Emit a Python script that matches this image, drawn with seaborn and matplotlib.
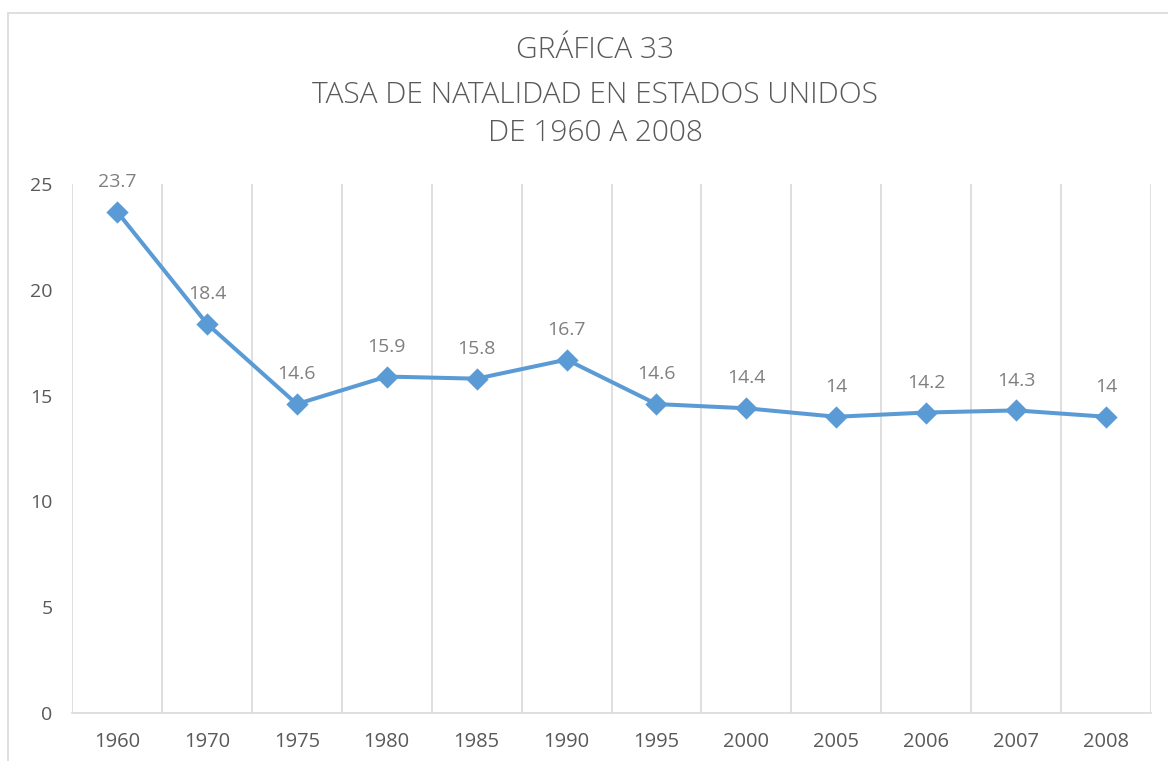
import matplotlib
matplotlib.use("Agg")
import matplotlib.pyplot as plt
import seaborn as sns
import pandas as pd
from matplotlib.patches import Rectangle

years = ["1960", "1970", "1975", "1980", "1985", "1990", "1995", "2000", "2005", "2006", "2007", "2008"]
rates = [23.7, 18.4, 14.6, 15.9, 15.8, 16.7, 14.6, 14.4, 14.0, 14.2, 14.3, 14.0]
labels = ["23.7", "18.4", "14.6", "15.9", "15.8", "16.7", "14.6", "14.4", "14", "14.2", "14.3", "14"]
yticks = [0, 5, 10, 15, 20, 25]
title_lines = ["GRÁFICA 33", "TASA DE NATALIDAD EN ESTADOS UNIDOS", "DE 1960 A 2008"]

sns.set_theme(style="white")
plt.rcParams['font.family'] = ['Open Sans', 'DejaVu Sans']

df = pd.DataFrame({"year": years, "rate": rates})

W, H = 1168, 761
fig = plt.figure(figsize=(W / 100, H / 100), dpi=100)
fig.patch.set_facecolor("white")
# chart border
fig.patches.append(Rectangle((8 / W, -0.01), 1.0, 1 - 13 / H + 0.01, transform=fig.transFigure,
                             fill=False, edgecolor="#d9d9d9", linewidth=1.2))

ax = fig.add_axes([72 / W, 1 - 713 / H, (1151 - 72) / W, (713 - 184) / H])
blue = "#5b9bd5"
sns.pointplot(data=df, x="year", y="rate", order=years, color=blue, markers="D",
              markersize=9.5, linewidth=2.9, ax=ax, errorbar=None)

ax.set_xlim(-0.5, len(years) - 0.5)
ax.set_ylim(0, 25)
ax.set_yticks(yticks)
ax.set_yticklabels([str(v) for v in yticks])
ax.set_xlabel("")
ax.set_ylabel("")

# vertical gridlines at category boundaries
for i in range(len(years) + 1):
    ax.axvline(i - 0.5, color="#d9d9d9", linewidth=1.2, zorder=0)

for s in ["top", "right", "left"]:
    ax.spines[s].set_visible(False)
ax.spines["bottom"].set_color("#d9d9d9")
ax.spines["bottom"].set_linewidth(1.2)

ax.tick_params(axis="both", length=0, colors="#595959")
ax.tick_params(axis="y", pad=14, labelsize=14)
ax.tick_params(axis="x", pad=14, labelsize=14.5)

for i, (v, lab) in enumerate(zip(rates, labels)):
    ax.annotate(lab, (i, v), xytext=(0, 15), textcoords="offset points",
                ha="center", va="bottom", fontsize=14, color="#7f7f7f")

ys = [50, 95, 133]
for line, y in zip(title_lines, ys):
    fig.text(595 / W, 1 - y / H, line, ha="center", va="center", fontsize=21.5,
             color="#595959", fontweight="light")

fig.savefig("out.png", dpi=100)
